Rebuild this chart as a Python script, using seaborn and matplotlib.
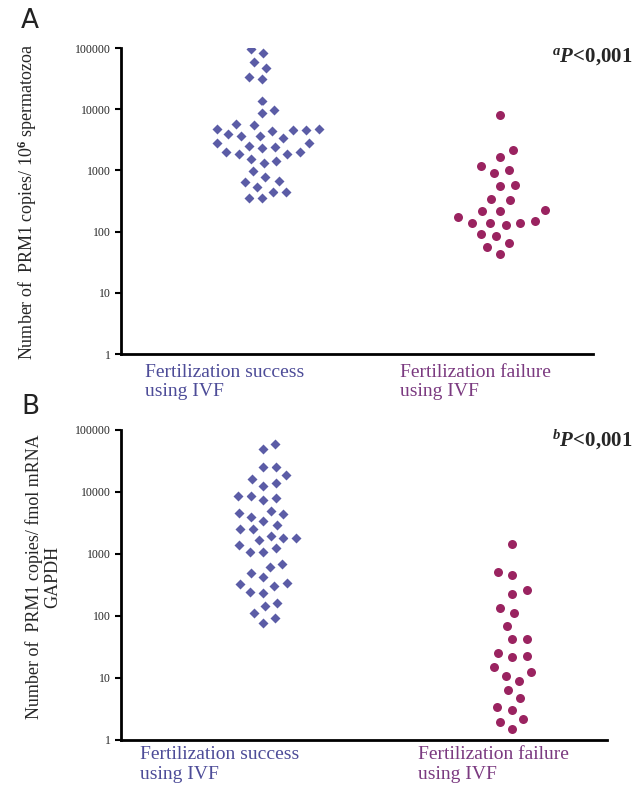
import numpy as np
import pandas as pd
import seaborn as sns
import matplotlib.pyplot as plt
from matplotlib.ticker import FixedLocator, NullLocator

groups = ["Fertilization success\nusing IVF", "Fertilization failure\nusing IVF"]

# Panel A: PRM1 copies / 10^6 spermatozoa
a_success = [95000, 82000, 58000, 47700, 34000, 30800, 13800, 9700, 8570, 5670,
             5520, 3890, 4450, 4570, 4700, 4700, 4650, 3650, 3420, 3690,
             2770, 2770, 2300, 2530, 2390, 1980, 1830, 1830, 1980, 1540,
             1425, 1306, 977, 654, 671, 789, 449, 449, 542, 358, 350]
a_failure = [8040, 2150, 1675, 1194, 1015, 917, 577, 556, 337, 328,
             220, 217, 225, 171, 140, 128, 140, 151, 140, 90,
             85, 66, 55, 43]

# Panel B: PRM1 copies / fmol mRNA GAPDH
b_success = [59400, 49400, 25000, 25000, 18800, 16200, 14100, 12600, 8710, 7430,
             8090, 8710, 4940, 4000, 4370, 4640, 3440, 2940, 2530, 2530,
             1680, 1397, 1790, 1972, 1790, 1089, 1089, 1236, 690, 624,
             488, 421, 337, 305, 328, 238, 247, 164, 147, 110, 92, 78]
b_failure = [1450, 459, 518, 226, 263, 110, 133, 69, 42, 42,
             21.6, 22.6, 25, 10.8, 9.1, 12.6, 14.9, 6.4, 4.7, 3.05,
             3.4, 2.16, 1.97, 1.49]

y_ticks = [1, 10, 100, 1000, 10000, 100000]
y_ticklabels = ["1", "10", "100", "1000", "10000", "100000"]

blue = "#5b5ca6"
purple = "#9a2360"
blue_text = "#4d4c98"
purple_text = "#7b3a80"

sns.set_style("white")
plt.rcParams["font.family"] = ["Liberation Serif", "DejaVu Serif"]
plt.rcParams["mathtext.fontset"] = "custom"
plt.rcParams["mathtext.it"] = "Liberation Serif:italic:bold"
plt.rcParams["mathtext.rm"] = "Liberation Serif:bold"

W, H = 641, 789
fig = plt.figure(figsize=(W / 100, H / 100), dpi=100)


def px_axes(left, top, right, bottom):
    return fig.add_axes([left / W, 1 - bottom / H, (right - left) / W, (bottom - top) / H])


def panel(ax, success, failure, xlim):
    df = pd.DataFrame({
        "group": [groups[0]] * len(success) + [groups[1]] * len(failure),
        "value": success + failure,
    })
    ax.set_yscale("log")
    ax.set_ylim(1, 100000)
    # white edges keep the swarm loose, like the original
    sns.swarmplot(data=df[df.group == groups[0]], x="group", y="value", order=groups,
                  marker="D", size=7.0, color=blue, linewidth=1.9, edgecolor="white",
                  ax=ax, warn_thresh=1)
    sns.swarmplot(data=df[df.group == groups[1]], x="group", y="value", order=groups,
                  marker="o", size=8.4, color=purple, linewidth=1.9, edgecolor="white",
                  ax=ax, warn_thresh=1)
    ax.set_xlim(*xlim)
    ax.set_ylim(1, 100000)
    ax.yaxis.set_major_locator(FixedLocator(y_ticks))
    ax.yaxis.set_minor_locator(NullLocator())
    ax.set_yticklabels(y_ticklabels, fontsize=8.5)
    ax.tick_params(axis="y", left=True, length=4, width=1.5, pad=3, color="black")
    ax.tick_params(axis="x", bottom=False, labelbottom=False)
    ax.set_xlabel("")
    ax.set_ylabel("")
    for s in ["top", "right"]:
        ax.spines[s].set_visible(False)
    for s in ["left", "bottom"]:
        ax.spines[s].set_linewidth(2)
        ax.spines[s].set_color("black")


axA = px_axes(121, 48, 593, 354)
panel(axA, a_success, a_failure, (-0.59, 1.39))
axB = px_axes(121, 430, 607, 740)
panel(axB, b_success, b_failure, (-0.57, 1.38))

# panel letters
fig.text(30 / W, 1 - 21 / H, "A", family="DejaVu Sans", fontsize=19, ha="center", va="center",
         color="#222222")
fig.text(30 / W, 1 - 407 / H, "B", family="DejaVu Sans", fontsize=19, ha="center", va="center",
         color="#222222")

# y labels
fig.text(27 / W, 1 - 202 / H, "Number of  PRM1 copies/ 10$^{\\rm 6}$ spermatozoa", rotation=90,
         fontsize=13, ha="center", va="center")
fig.text(43 / W, 1 - 577 / H, "Number of  PRM1 copies/ fmol mRNA\nGAPDH", rotation=90,
         fontsize=13, ha="center", va="center", multialignment="center", linespacing=1.1)

# category labels
fig.text(145 / W, 1 - 364 / H, groups[0], color=blue_text, fontsize=14, ha="left", va="top",
         linespacing=1.12)
fig.text(400 / W, 1 - 364 / H, groups[1], color=purple_text, fontsize=14, ha="left", va="top",
         linespacing=1.12)
fig.text(140 / W, 1 - 746 / H, groups[0], color=blue_text, fontsize=14, ha="left", va="top",
         linespacing=1.22)
fig.text(418 / W, 1 - 746 / H, groups[1], color=purple_text, fontsize=14, ha="left", va="top",
         linespacing=1.22)

# p-values
fig.text(632 / W, 1 - 57 / H, "$^{a}P$<0,001", fontsize=15, fontweight="bold", ha="right",
         va="center")
fig.text(632 / W, 1 - 440 / H, "$^{b}P$<0,001", fontsize=15, fontweight="bold", ha="right",
         va="center")

fig.savefig("out.png", dpi=100, facecolor="white")
